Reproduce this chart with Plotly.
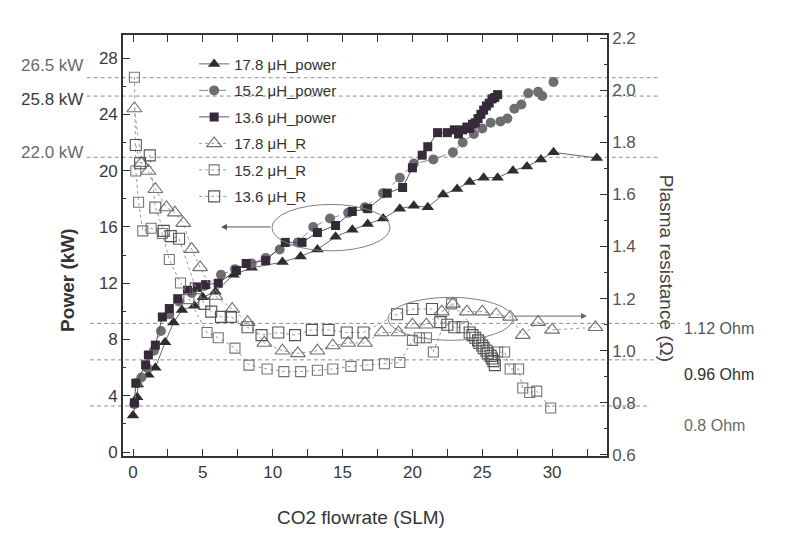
import plotly.graph_objects as go

# ---------------- data ----------------
# CO2 flowrate (SLM) vs power (kW)
p178_x = [0.0, 0.3, 0.35, 1.1, 1.6, 2.3, 2.9, 3.5, 4.4, 5.0, 5.9, 7.2, 8.5, 10.7, 12.0, 13.2, 14.5, 15.7, 16.8,
          17.9, 19.1, 20.1, 21.1, 22.2, 23.2, 24.1, 25.1, 26.1, 27.2, 28.2, 29.2, 30.1, 33.2]
p178_y = [2.6, 3.9, 4.8, 5.5, 6.0, 7.8, 9.2, 10.1, 10.4, 11.0, 11.4, 12.6, 13.1, 13.5, 13.9, 14.4, 15.3, 15.8, 16.2,
          16.6, 17.3, 17.5, 17.4, 18.3, 18.7, 19.2, 19.5, 19.5, 20.0, 20.3, 20.8, 21.3, 20.9]

p152_x = [0.1, 0.3, 0.6, 1.0, 1.5, 2.0, 2.6, 3.3, 4.2, 5.1, 6.3, 7.3, 8.5, 9.5, 10.5, 11.8, 12.9, 14.1, 15.4,
          16.6, 17.9, 19.1, 20.1, 21.5, 22.9, 23.6, 24.4, 25.0, 25.6, 26.3, 26.8, 27.3, 27.8, 28.3, 29.0, 29.3, 30.1]
p152_y = [3.4, 4.9, 5.3, 6.0, 7.2, 8.6, 9.8, 10.7, 11.3, 11.8, 12.6, 13.0, 13.4, 13.8, 14.4, 14.9, 16.0, 16.6, 17.0,
          17.4, 18.4, 19.5, 20.5, 20.8, 21.3, 22.0, 22.6, 23.0, 23.4, 23.5, 23.7, 24.4, 24.7, 25.5, 25.6, 25.3, 26.3]

p136_x = [0.1, 0.2, 0.9, 1.1, 1.6, 2.1, 2.6, 3.2, 3.9, 4.6, 5.2, 6.1, 7.4, 8.1, 9.5, 10.9, 12.1, 13.2, 14.5,
          15.7, 16.8, 18.2, 19.3, 20.0, 20.7, 21.1, 21.8, 22.5, 23.0, 23.3, 23.6, 23.9, 24.1, 24.3, 24.5, 24.7,
          24.9, 25.1, 25.3, 25.5, 25.7, 25.9, 26.1]
p136_y = [3.5, 4.9, 6.2, 6.9, 7.6, 9.6, 10.2, 10.9, 11.5, 11.7, 11.9, 12.0, 12.9, 13.4, 13.6, 14.9, 14.9, 15.6, 16.1,
          17.1, 17.3, 18.4, 18.8, 20.2, 21.1, 21.7, 22.7, 22.7, 22.9, 22.6, 22.9, 23.1, 23.0, 23.3, 23.4, 23.7,
          24.0, 24.3, 24.6, 24.8, 25.1, 25.2, 25.4]

# CO2 flowrate (SLM) vs plasma resistance (Ohm)
r178_x = [0.1, 0.6, 1.1, 1.6, 2.4, 3.0, 3.6, 4.2, 4.8, 5.9, 7.1, 8.2, 9.4, 10.7, 11.8, 13.2, 14.3, 15.4, 16.6,
          17.8, 19.0, 20.0, 21.0, 22.1, 22.9, 23.9, 25.0, 26.0, 27.0, 27.9, 29.0, 30.0, 33.1]
r178_y = [1.93, 1.72, 1.69, 1.62, 1.55, 1.53, 1.49, 1.39, 1.32, 1.21, 1.16, 1.11, 1.03, 1.00, 0.99, 1.00, 1.02,
          1.03, 1.03, 1.07, 1.07, 1.10, 1.10, 1.15, 1.18, 1.15, 1.15, 1.14, 1.13, 1.06, 1.11, 1.08, 1.09]

r152_x = [0.1, 0.2, 0.4, 0.7, 1.3, 2.1, 2.6, 3.4, 4.0, 5.3, 6.1, 7.3, 8.3, 9.6, 10.8, 12.0, 13.2, 14.3, 15.6,
          16.8, 18.0, 19.1, 20.0, 20.5, 21.0, 21.5, 22.8, 26.1, 26.6, 27.0, 27.6, 27.9, 28.4, 28.9, 29.9]
r152_y = [2.05, 1.69, 1.57, 1.46, 1.47, 1.45, 1.35, 1.26, 1.20, 1.07, 1.05, 1.01, 0.945, 0.93, 0.92, 0.92, 0.925,
          0.93, 0.94, 0.945, 0.95, 0.955, 1.04, 1.05, 1.05, 0.995, 1.18, 0.995, 0.995, 0.93, 0.93, 0.857, 0.84,
          0.845, 0.78]

r136_x = [0.2, 0.5, 1.2, 1.6, 2.2, 2.7, 3.3, 4.5, 5.1, 5.6, 6.3, 7.0, 8.2, 9.2, 10.4, 11.6, 12.8, 14.0, 15.3,
          16.5, 18.9, 20.0, 21.4, 22.0, 22.5, 23.0, 23.6, 24.1, 24.3, 24.5, 24.7, 24.8, 25.0, 25.1, 25.3, 25.4,
          25.6, 25.7, 25.8, 25.9]
r136_y = [1.79, 1.72, 1.75, 1.55, 1.46, 1.44, 1.43, 1.24, 1.18, 1.15, 1.13, 1.13, 1.09, 1.06, 1.07, 1.06, 1.08,
          1.08, 1.07, 1.07, 1.14, 1.16, 1.16, 1.11, 1.10, 1.09, 1.09, 1.07, 1.06, 1.05, 1.04, 1.03, 1.02, 1.01,
          1.00, 0.99, 0.98, 0.97, 0.96, 0.945]

# reference lines
kw_lines = [26.6, 25.3, 20.95]
kw_labels = ["26.5 kW", "25.8 kW", "22.0 kW"]
ohm_lines = [1.105, 0.965, 0.788]
ohm_labels = ["1.12 Ohm", "0.96 Ohm", "0.8 Ohm"]

x_ticks = [0, 5, 10, 15, 20, 25, 30]
p_ticks = [0, 4, 8, 12, 16, 20, 24, 28]
r_ticks = [0.6, 0.8, 1.0, 1.2, 1.4, 1.6, 1.8, 2.0, 2.2]

# ---------------- style ----------------
FONT = "Liberation Sans Narrow, Arial Narrow, Liberation Sans, Arial, sans-serif"
AXC = "#333333"
DASH = "4px,3px"

fig = go.Figure()

def add(x, y, name, symbol, color, size, dash, yaxis, rank, lcolor="#777777", open_=False):
    marker = dict(symbol=symbol, size=size, color=color,
                  line=dict(color=color, width=1.1 if open_ else 0))
    fig.add_trace(go.Scatter(x=x, y=y, name=name, mode="lines+markers", yaxis=yaxis,
                             marker=marker, line=dict(color=lcolor, width=1, dash=dash),
                             legendrank=rank, legendgroup=name))

# R series first (below)
add(r178_x, r178_y, "17.8 μH_R", "triangle-up-open", "#707070", 13, "dot", "y2", 4, "#9a9a9a", True)
add(r152_x, r152_y, "15.2 μH_R", "square-open", "#747474", 10, "dot", "y2", 5, "#9a9a9a", True)
add(r136_x, r136_y, "13.6 μH_R", "square-open", "#555555", 11, "dot", "y2", 6, "#9a9a9a", True)
# power series
add(p178_x, p178_y, "17.8 μH_power", "triangle-up", "#2e2e2e", 11, "solid", "y", 1, "#666666")
add(p152_x, p152_y, "15.2 μH_power", "circle", "#6e6e6e", 10, "dash", "y", 2, "#888888")
add(p136_x, p136_y, "13.6 μH_power", "square", "#35293a", 9, "solid", "y", 3, "#555555")

shapes = []
for v in kw_lines:
    shapes.append(dict(type="line", xref="paper", yref="y", x0=-0.075, x1=1.105, y0=v, y1=v,
                       line=dict(color="#8f8f8f", width=1, dash=DASH), layer="below"))
for v, x1 in zip(ohm_lines, [1.15, 1.10, 1.09]):
    shapes.append(dict(type="line", xref="paper", yref="y2", x0=-0.068, x1=x1, y0=v, y1=v,
                       line=dict(color="#8f8f8f", width=1, dash=DASH), layer="below"))
# ellipses
shapes.append(dict(type="circle", xref="x", yref="y", x0=9.95, x1=18.4, y0=14.3, y1=17.6,
                   line=dict(color="#808080", width=1)))
shapes.append(dict(type="circle", xref="x", yref="y2", x0=18.25, x1=27.2, y0=1.04, y1=1.205,
                   line=dict(color="#808080", width=1)))

annotations = []
for v, t, c, ys in zip(kw_lines, kw_labels, ["#6a6a6a", "#3a3a3a", "#6a6a6a"], [12, -3, 5]):
    annotations.append(dict(x=-0.078, y=v, xref="paper", yref="y", text=t, showarrow=False,
                            xanchor="right", yanchor="middle", yshift=ys,
                            font=dict(family=FONT, size=17, color=c)))
for v, t, c, ys in zip(ohm_lines, ohm_labels, ["#555555", "#2e2e2e", "#6a6a6a"], [-5, -15, -20]):
    annotations.append(dict(x=1.155, y=v, xref="paper", yref="y2", text=t, showarrow=False,
                            xanchor="left", yanchor="middle", yshift=ys,
                            font=dict(family=FONT, size=16, color=c)))
# arrows
annotations.append(dict(x=6.3, y=16.0, ax=9.95, ay=16.0, xref="x", yref="y", axref="x", ayref="y",
                        text="", showarrow=True, arrowhead=2, arrowsize=1.2, arrowwidth=1,
                        arrowcolor="#555555"))
annotations.append(dict(x=32.5, y=1.133, ax=27.2, ay=1.133, xref="x", yref="y2", axref="x", ayref="y2",
                        text="", showarrow=True, arrowhead=2, arrowsize=1.2, arrowwidth=1,
                        arrowcolor="#666666"))
# axis titles
annotations.append(dict(x=-0.116, y=0.418, xref="paper", yref="paper", text="<b>Power (kW)</b>",
                        textangle=-90, showarrow=False, xanchor="center", yanchor="middle",
                        font=dict(family=FONT, size=19, color="#333333")))
annotations.append(dict(x=1.122, y=0.447, xref="paper", yref="paper", text="Plasma resistance (Ω)",
                        textangle=90, showarrow=False, xanchor="center", yanchor="middle",
                        font=dict(family=FONT, size=19, color="#444444")))
annotations.append(dict(x=0.492, y=-0.145, xref="paper", yref="paper", text="CO2 flowrate (SLM)",
                        showarrow=False, xanchor="center", yanchor="middle",
                        font=dict(family=FONT, size=19, color="#333333")))

tickfont = dict(family=FONT, size=17, color="#3a3a3a")
fig.update_layout(
    width=807, height=539,
    margin=dict(l=115, r=208, t=27, b=91),
    paper_bgcolor="white", plot_bgcolor="white",
    showlegend=True,
    legend=dict(x=0.147, y=0.97, xanchor="left", yanchor="top", bgcolor="rgba(0,0,0,0)",
                font=dict(family=FONT, size=15, color="#333333"), tracegroupgap=4,
                itemwidth=30),
    xaxis=dict(range=[-0.716, 33.93], tickvals=x_ticks, ticks="inside", ticklen=7, tickwidth=1.3,
               tickcolor=AXC, showline=True, linecolor=AXC, linewidth=1.6, mirror="allticks",
               showgrid=False, zeroline=False, tickfont=tickfont,
               minor=dict(dtick=2.5, tick0=0, ticks="inside", ticklen=3, tickcolor=AXC)),
    yaxis=dict(range=[-0.28, 29.64], tickvals=p_ticks, ticks="inside", ticklen=7, tickwidth=1.3,
               tickcolor=AXC, showline=True, linecolor=AXC, linewidth=1.6, showgrid=False,
               zeroline=False, tickfont=tickfont,
               minor=dict(dtick=2, tick0=0, ticks="inside", ticklen=3, tickcolor=AXC)),
    yaxis2=dict(range=[0.596, 2.212], tickvals=r_ticks, tickformat=".1f", overlaying="y", side="right",
                ticks="inside", ticklen=7, tickwidth=1.3, tickcolor=AXC, showline=True, linecolor=AXC,
                linewidth=1.6, showgrid=False, zeroline=False,
                tickfont=dict(family=FONT, size=17, color="#555555"),
                minor=dict(dtick=0.1, tick0=0.6, ticks="inside", ticklen=3, tickcolor=AXC)),
    shapes=shapes, annotations=annotations,
)

fig.write_html("out.html")
